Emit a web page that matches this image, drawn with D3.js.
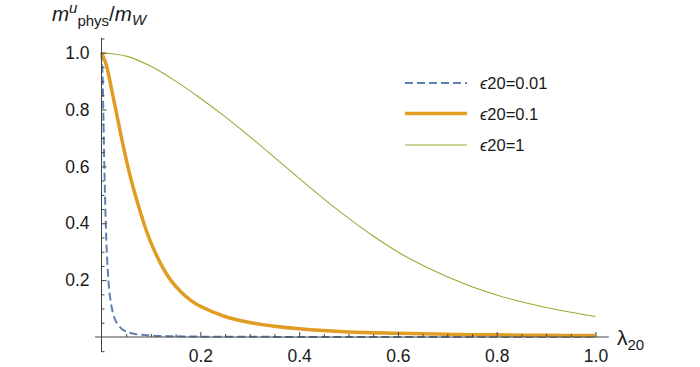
<!DOCTYPE html>
<html><head><meta charset="utf-8">
<script src="https://cdn.jsdelivr.net/npm/d3@7/dist/d3.min.js"></script>
<style>
body{margin:0;background:#fff}
svg{display:block}
text{font-family:"Liberation Sans",Arial,Helvetica,sans-serif}
</style>
</head><body>
<svg id="chart" width="700" height="367"></svg>
<script>
// ---- data ----
const seriesNames = ["ϵ20=0.01", "ϵ20=0.1", "ϵ20=1"];
const seriesColors = ["#5E81B5", "#E19C24", "#8FB032"];

const lambdaEps001 = [0, 0.002, 0.004, 0.006, 0.008, 0.010, 0.013, 0.016, 0.020, 0.025, 0.030, 0.040, 0.050, 0.070, 0.100, 0.150, 0.200, 0.300, 0.500, 1.000];
const valueEps001  = [1.0, 0.93, 0.76, 0.58, 0.44, 0.33, 0.225, 0.16, 0.11, 0.073, 0.052, 0.030, 0.019, 0.010, 0.005, 0.0025, 0.0013, 0.0006, 0.0002, 0.0];

const lambdaEps01 = [0, 0.01, 0.02, 0.03, 0.04, 0.05, 0.06, 0.07, 0.08, 0.09, 0.10, 0.12, 0.14, 0.16, 0.18, 0.20, 0.25, 0.30, 0.35, 0.40, 0.50, 0.60, 0.70, 0.80, 0.90, 1.00];
const valueEps01  = [1.0, 0.955, 0.875, 0.79, 0.705, 0.625, 0.553, 0.49, 0.432, 0.378, 0.332, 0.257, 0.200, 0.160, 0.130, 0.108, 0.072, 0.051, 0.038, 0.029, 0.018, 0.013, 0.0095, 0.0075, 0.006, 0.005];

const lambdaEps1 = [0, 0.05, 0.10, 0.15, 0.20, 0.25, 0.30, 0.35, 0.40, 0.45, 0.50, 0.55, 0.60, 0.65, 0.70, 0.75, 0.80, 0.85, 0.90, 0.95, 1.00];
const valueEps1  = [1.0, 0.988, 0.952, 0.900, 0.840, 0.775, 0.705, 0.632, 0.558, 0.486, 0.418, 0.355, 0.299, 0.252, 0.212, 0.177, 0.148, 0.124, 0.104, 0.087, 0.072];

const xMajorTicks = [0.2, 0.4, 0.6, 0.8, 1.0];
const xTickLabels = ["0.2", "0.4", "0.6", "0.8", "1.0"];
const yMajorTicks = [0.2, 0.4, 0.6, 0.8, 1.0];
const yTickLabels = ["0.2", "0.4", "0.6", "0.8", "1.0"];

// ---- build ----
const lambdas = [lambdaEps001, lambdaEps01, lambdaEps1];
const values = [valueEps001, valueEps01, valueEps1];
const series = seriesNames.map((n, i) => ({
  name: n, color: seriesColors[i],
  pts: lambdas[i].map((l, j) => [l, values[i][j]])
}));

const svg = d3.select("#chart");
const x = d3.scaleLinear().domain([0, 1]).range([101.5, 595.5]);
const y = d3.scaleLinear().domain([0, 1]).range([337, 52.7]);

const styles = [
  {w: 2, dash: "8,4"},
  {w: 3.5, dash: null},
  {w: 1.1, dash: null}
];

const line = d3.line().x(d => x(d[0])).y(d => y(d[1])).curve(d3.curveCatmullRom.alpha(0.5));

const gLines = svg.append("g");
series.forEach((s, i) => {
  gLines.append("path").datum(s.pts)
    .attr("d", line)
    .attr("fill", "none")
    .attr("stroke", s.color)
    .attr("stroke-width", styles[i].w)
    .attr("stroke-dasharray", styles[i].dash)
    .attr("stroke-linejoin", "round");
});

// axes
const axisColor = "#444";
const xMinor = d3.range(1, 21).map(k => k * 0.05).filter(v => !xMajorTicks.some(m => Math.abs(m - v) < 1e-9));
const yMinor = d3.range(-1, 22).map(k => k * 0.05).filter(v => Math.abs(v) > 1e-9 && !yMajorTicks.some(m => Math.abs(m - v) < 1e-9));

svg.append("line").attr("x1", x(-0.013)).attr("x2", x(1.027)).attr("y1", y(0)).attr("y2", y(0))
  .attr("stroke", axisColor).attr("stroke-width", 1);
svg.append("line").attr("x1", x(0)).attr("x2", x(0)).attr("y1", y(-0.053)).attr("y2", y(1.052))
  .attr("stroke", axisColor).attr("stroke-width", 1);

const xAxis = d3.axisBottom(x).tickValues(xMajorTicks).tickSize(-5).tickSizeOuter(0).tickPadding(13)
  .tickFormat((d, i) => xTickLabels[i]);
const xAxisMinor = d3.axisBottom(x).tickValues(xMinor).tickSize(-3).tickSizeOuter(0).tickFormat("");
const yAxis = d3.axisLeft(y).tickValues(yMajorTicks).tickSize(-5).tickSizeOuter(0).tickPadding(12)
  .tickFormat((d, i) => yTickLabels[i]);
const yAxisMinor = d3.axisLeft(y).tickValues(yMinor).tickSize(-3).tickSizeOuter(0).tickFormat("");

function styleAxis(g) {
  g.select(".domain").remove();
  g.selectAll(".tick line").attr("stroke", axisColor);
  g.selectAll(".tick text").attr("fill", "#1a1a1a").style("font-size", "17.5px")
    .style("font-family", '"Liberation Sans", Arial, sans-serif');
}
svg.append("g").attr("transform", `translate(0,${y(0)})`).call(xAxisMinor).call(styleAxis);
svg.append("g").attr("transform", `translate(0,${y(0)})`).call(xAxis).call(styleAxis);
svg.append("g").attr("transform", `translate(${x(0)},0)`).call(yAxisMinor).call(styleAxis);
svg.append("g").attr("transform", `translate(${x(0)},0)`).call(yAxis).call(styleAxis);

// axis titles
const yTitle = svg.append("text").attr("x", 52).attr("y", 21).attr("fill", "#1a1a1a").style("font-size", "20.5px");
yTitle.append("tspan").attr("font-style", "italic").text("m");
yTitle.append("tspan").attr("font-style", "italic").attr("font-size", "15px").attr("dy", -8).text("u");
yTitle.append("tspan").attr("font-size", "15px").attr("dy", 13).text("phys");
yTitle.append("tspan").attr("dy", -5).text("/");
yTitle.append("tspan").attr("font-style", "italic").text("m");
yTitle.append("tspan").attr("font-style", "italic").attr("font-size", "15px").attr("dy", 4).text("W");

const xTitle = svg.append("text").attr("x", 617).attr("y", 345).attr("fill", "#1a1a1a").style("font-size", "21px");
xTitle.append("tspan").text("λ");
xTitle.append("tspan").attr("font-size", "15px").attr("dy", 5).text("20");

// legend
const legend = svg.append("g");
const legendY = [83, 113.5, 145];
series.forEach((s, i) => {
  legend.append("line").attr("x1", 405).attr("x2", 467).attr("y1", legendY[i]).attr("y2", legendY[i])
    .attr("stroke", s.color).attr("stroke-width", styles[i].w)
    .attr("stroke-dasharray", styles[i].dash);
  const t = legend.append("text").attr("x", 480).attr("y", legendY[i] + 6)
    .attr("fill", "#1a1a1a").style("font-size", "16.5px");
  t.append("tspan").attr("font-style", "italic").text(s.name.slice(0, 1));
  t.append("tspan").text(s.name.slice(1));
});
</script>
</body></html>
